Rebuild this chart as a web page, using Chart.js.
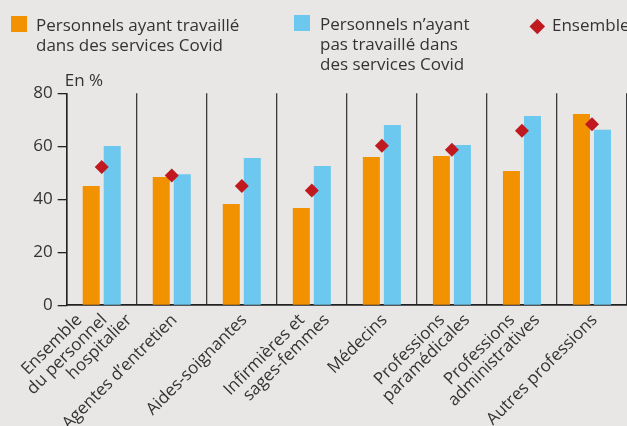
<!DOCTYPE html>
<html lang="fr">
<head>
<meta charset="utf-8">
<title>Personnels hospitaliers</title>
<script src="https://cdn.jsdelivr.net/npm/chart.js@4.4.1/dist/chart.umd.min.js"></script>
<style>
  html, body { margin: 0; padding: 0; background: #e8e7e6; }
  #wrap { position: relative; width: 627px; height: 426px; overflow: hidden; background: #e8e7e6;
          font-family: "Open Sans", sans-serif; color: #333; }
  #c { position: absolute; left: 0; top: 0; }
  .lg { position: absolute; font-size: 17px; line-height: 20px; white-space: nowrap; color: #333; }
  .sw { position: absolute; width: 16px; height: 16px; }
  .dm { position: absolute; width: 10.6px; height: 10.6px; transform: rotate(45deg); }
</style>
</head>
<body>
<div id="wrap">
  <canvas id="c" width="627" height="426"></canvas>
  <div class="sw" style="left:11px; top:16px; background:#f39200;"></div>
  <div class="lg" style="left:36px; top:15px;">Personnels ayant travaillé<br>dans des services Covid</div>
  <div class="sw" style="left:294px; top:15px; background:#6cc8ef;"></div>
  <div class="lg" style="left:320px; top:14px;">Personnels n’ayant<br>pas travaillé dans<br>des services Covid</div>
  <div class="dm" style="left:531.7px; top:20.7px; background:#c0191f;"></div>
  <div class="lg" style="left:552px; top:15px;">Ensemble</div>
</div>
<script>
// ---- Data ----
const categories = [
  ["Ensemble", "du personnel", "hospitalier"],
  ["Agentes d’entretien"],
  ["Aides-soignantes"],
  ["Infirmières et", "sages-femmes"],
  ["Médecins"],
  ["Professions", "paramédicales"],
  ["Professions", "administratives"],
  ["Autres professions"]
];
const covidValues    = [45.0, 48.4, 38.2, 36.7, 56.0, 56.3, 50.7, 72.2];
const nonCovidValues = [60.1, 49.5, 55.6, 52.6, 68.0, 60.5, 71.4, 66.2];
const ensembleValues = [52.2, 49.0, 45.0, 43.3, 60.2, 58.7, 65.9, 68.3];
const yTicks = [0, 20, 40, 60, 80];
const seriesNames = ["Personnels ayant travaillé dans des services Covid",
                     "Personnels n’ayant pas travaillé dans des services Covid",
                     "Ensemble"];
const yAxisTitle = "En %";

const FONT = '"Open Sans", sans-serif';
const TEXT = '#333333';

const xLabelPlugin = {
  id: 'xLabels',
  afterDraw(chart) {
    const ctx = chart.ctx;
    const xs = chart.scales.x;
    const ys = chart.scales.y;
    ctx.save();
    ctx.font = '17px ' + FONT;
    ctx.fillStyle = TEXT;
    // axis title
    ctx.textAlign = 'left';
    ctx.textBaseline = 'alphabetic';
    ctx.fillText(yAxisTitle, ys.right - 2, ys.top - 7);
    // category labels, rotated 45°
    ctx.textAlign = 'right';
    chart.data.labels.forEach((lab, i) => {
      const lines = Array.isArray(lab) ? lab : [lab];
      const n = lines.length;
      const cx = xs.getPixelForValue(i);
      lines.forEach((t, k) => {
        const bx = cx + 6 + 25 * (k - (n - 1) / 2);
        const by = xs.top + 15.5;
        ctx.save();
        ctx.translate(bx, by);
        ctx.rotate(-Math.PI / 4);
        ctx.fillText(t, 0, 0);
        ctx.restore();
      });
    });
    ctx.restore();
  }
};

new Chart(document.getElementById('c'), {
  type: 'bar',
  data: {
    labels: categories,
    datasets: [
      { type: 'line', label: seriesNames[2], data: ensembleValues, showLine: false,
        pointStyle: 'rectRot', pointRadius: 7, pointHoverRadius: 7,
        pointBackgroundColor: '#c0191f', pointBorderWidth: 0, order: 0 },
      { label: seriesNames[0], data: covidValues, backgroundColor: '#f39200', borderWidth: 0,
        categoryPercentage: 0.6, barPercentage: 0.81, order: 1 },
      { label: seriesNames[1], data: nonCovidValues, backgroundColor: '#6cc8ef', borderWidth: 0,
        categoryPercentage: 0.6, barPercentage: 0.81, order: 1 }
    ]
  },
  options: {
    responsive: false,
    maintainAspectRatio: false,
    devicePixelRatio: 1,
    animation: false,
    events: [],
    layout: { autoPadding: false, padding: { top: 93.3, left: 0, right: 0, bottom: 0 } },
    plugins: { legend: { display: false }, tooltip: { enabled: false }, title: { display: false } },
    scales: {
      x: {
        offset: true,
        ticks: { display: false },
        grid: { display: true, offset: true, drawTicks: false, drawOnChartArea: true,
                color: '#3a3a3a', lineWidth: 1.3 },
        border: { display: true, color: '#222', width: 1.8 },
        afterFit(scale) { scale.height = 426 - 305.3; }
      },
      y: {
        min: 0, max: 80,
        afterBuildTicks(scale) { scale.ticks = yTicks.map(v => ({ value: v })); },
        ticks: { font: { family: FONT, size: 17 }, color: TEXT, padding: 5 },
        grid: { drawOnChartArea: false, drawTicks: true, tickLength: 9, color: '#222', lineWidth: 1.3 },
        border: { display: true, color: '#222', width: 1.5 },
        afterFit(scale) { scale.width = 66.7; }
      }
    }
  },
  plugins: [xLabelPlugin]
});
</script>
</body>
</html>
